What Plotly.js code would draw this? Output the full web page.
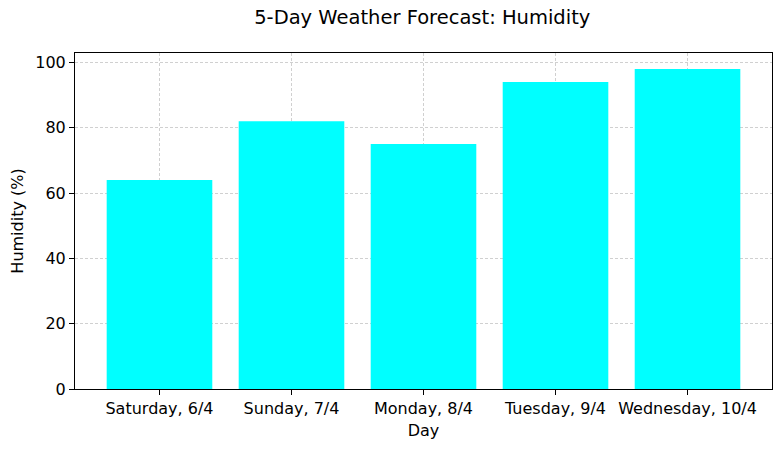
<!DOCTYPE html>
<html><head><meta charset="utf-8">
<script src="https://cdn.plot.ly/plotly-3.0.1.min.js"></script>
<style>body{margin:0;padding:0;}#chart{width:782px;height:450px;}</style>
</head><body><div id="chart"></div>
<script>
const days = ["Saturday, 6/4", "Sunday, 7/4", "Monday, 8/4", "Tuesday, 9/4", "Wednesday, 10/4"];
const humidity = [64, 82, 75, 94, 98];
const yTicks = [0, 20, 40, 60, 80, 100];

const font = "DejaVu Sans, sans-serif";
const trace = {
  type: 'bar',
  x: days.map((d, i) => i),
  y: humidity,
  width: 0.8,
  marker: {color: '#00FFFF', line: {width: 0}},
  hoverinfo: 'none'
};
const grid = {showgrid: true, gridcolor: '#b0b0b0', gridwidth: 0.6, griddash: '3px,2px'};
const layout = {
  width: 782, height: 450,
  margin: {l: 75, r: 10, t: 53, b: 61},
  paper_bgcolor: 'white', plot_bgcolor: 'white',
  showlegend: false,
  title: {text: '5-Day Weather Forecast: Humidity', font: {family: font, size: 19.5, color: '#000'}, x: 0.54, xanchor: 'center', y: 0.978, yanchor: 'top'},
  xaxis: Object.assign({
    range: [-0.64, 4.64],
    tickmode: 'array', tickvals: days.map((d, i) => i), ticktext: days,
    ticks: 'outside', ticklen: 5, tickcolor: '#000', tickwidth: 1,
    showline: true, linecolor: '#000', linewidth: 1, mirror: true,
    zeroline: false,
    tickfont: {family: font, size: 16, color: '#000'},
    title: {text: 'Day', font: {family: font, size: 16, color: '#000'}, standoff: 7}
  }, grid),
  yaxis: Object.assign({
    range: [0, 102.9],
    tickmode: 'array', tickvals: yTicks,
    ticks: 'outside', ticklen: 5, tickcolor: '#000', tickwidth: 1,
    showline: true, linecolor: '#000', linewidth: 1, mirror: true,
    zeroline: false,
    tickfont: {family: font, size: 16, color: '#000'},
    title: {text: 'Humidity (%)', font: {family: font, size: 16, color: '#000'}, standoff: 7}
  }, grid),
  bargap: 0.2
};
Plotly.newPlot('chart', [trace], layout, {displayModeBar: false, staticPlot: true});
</script></body></html>
